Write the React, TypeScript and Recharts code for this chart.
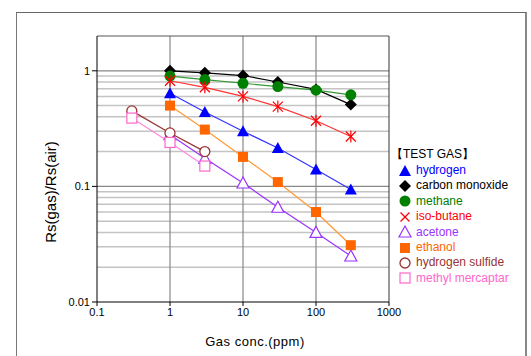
import React from 'react';
import { ComposedChart, Line, XAxis, YAxis, ReferenceLine } from 'recharts';

// gas concentrations (ppm)
const concMain = [1, 3, 10, 30, 100, 300];
const concLow = [0.3, 1, 3];

// Rs(gas)/Rs(air)
const hydrogen = [0.64, 0.44, 0.3, 0.215, 0.14, 0.094];
const carbonMonoxide = [1.0, 0.96, 0.91, 0.8, 0.69, 0.51];
const methane = [0.9, 0.84, 0.78, 0.73, 0.68, 0.62];
const isoButane = [0.82, 0.72, 0.6, 0.49, 0.37, 0.27];
const acetone = [0.28, 0.175, 0.107, 0.066, 0.04, 0.025];
const ethanol = [0.5, 0.31, 0.18, 0.109, 0.06, 0.031];
const hydrogenSulfide = [0.45, 0.29, 0.2];
const methylMercaptan = [0.39, 0.24, 0.15];

const xTicks = [0.1, 1, 10, 100, 1000];
const yTicks = [0.01, 0.1, 1];
const majorX = [1, 10, 100];
const majorY = [0.1, 1];
const minorY = [0.02, 0.03, 0.04, 0.05, 0.06, 0.07, 0.08, 0.09, 0.2, 0.3, 0.4, 0.5, 0.6, 0.7, 0.8, 0.9];

type Kind = 'triangle' | 'diamond' | 'circle' | 'star' | 'openTriangle' | 'square' | 'openCircle' | 'openSquare';

const toPoints = (xs: number[], ys: number[]) => ys.map((y, i) => ({ x: xs[i], y }));

const series = [
  { name: 'hydrogen', data: toPoints(concMain, hydrogen), line: '#3333ff', mark: '#0000ff', text: '#0000ff', kind: 'triangle' as Kind },
  { name: 'carbon monoxide', data: toPoints(concMain, carbonMonoxide), line: '#000000', mark: '#000000', text: '#000000', kind: 'diamond' as Kind },
  { name: 'methane', data: toPoints(concMain, methane), line: '#339933', mark: '#008000', text: '#008000', kind: 'circle' as Kind },
  { name: 'iso-butane', data: toPoints(concMain, isoButane), line: '#ff3333', mark: '#ff0000', text: '#ff0000', kind: 'star' as Kind },
  { name: 'acetone', data: toPoints(concMain, acetone), line: '#9933ff', mark: '#9933ff', text: '#9933ff', kind: 'openTriangle' as Kind },
  { name: 'ethanol', data: toPoints(concMain, ethanol), line: '#ff9933', mark: '#ff6600', text: '#ff6600', kind: 'square' as Kind },
  { name: 'hydrogen sulfide', data: toPoints(concLow, hydrogenSulfide), line: '#993333', mark: '#993333', text: '#993333', kind: 'openCircle' as Kind },
  { name: 'methyl mercaptar', data: toPoints(concLow, methylMercaptan), line: '#ff88dd', mark: '#ff66cc', text: '#ff66cc', kind: 'openSquare' as Kind },
];

const Marker = ({ cx, cy, kind, color }: { cx: number; cy: number; kind: Kind; color: string }) => {
  switch (kind) {
    case 'triangle':
      return <polygon points={`${cx},${cy - 6} ${cx - 6},${cy + 5} ${cx + 6},${cy + 5}`} fill={color} />;
    case 'openTriangle':
      return <polygon points={`${cx},${cy - 6} ${cx - 6},${cy + 5} ${cx + 6},${cy + 5}`} fill="#fff" stroke={color} strokeWidth={1.2} />;
    case 'diamond':
      return <polygon points={`${cx},${cy - 6} ${cx + 6},${cy} ${cx},${cy + 6} ${cx - 6},${cy}`} fill={color} />;
    case 'circle':
      return <circle cx={cx} cy={cy} r={5.5} fill={color} />;
    case 'openCircle':
      return <circle cx={cx} cy={cy} r={5} fill="#fff" stroke={color} strokeWidth={1.3} />;
    case 'square':
      return <rect x={cx - 5} y={cy - 5} width={10} height={10} fill={color} />;
    case 'openSquare':
      return <rect x={cx - 5} y={cy - 5} width={10} height={10} fill="#fff" stroke={color} strokeWidth={1.2} />;
    case 'star':
      return (
        <g stroke={color} strokeWidth={1.2}>
          <line x1={cx - 5} y1={cy - 5} x2={cx + 5} y2={cy + 5} />
          <line x1={cx - 5} y1={cy + 5} x2={cx + 5} y2={cy - 5} />
          <line x1={cx} y1={cy - 6} x2={cx} y2={cy + 6} />
        </g>
      );
  }
  return null;
};

const LegendMark = ({ kind, color }: { kind: Kind; color: string }) => {
  if (kind === 'star') {
    return (
      <svg width={14} height={14}>
        <g stroke={color} strokeWidth={1.2}>
          <line x1={2.5} y1={2.5} x2={11.5} y2={11.5} />
          <line x1={2.5} y1={11.5} x2={11.5} y2={2.5} />
        </g>
      </svg>
    );
  }
  return (
    <svg width={14} height={14}>
      <Marker cx={7} cy={7} kind={kind} color={color} />
    </svg>
  );
};

export default function App() {
  return (
    <div style={{ position: 'absolute', left: 0, top: 0, width: 531, height: 356, background: '#fff', overflow: 'hidden', fontFamily: '"Liberation Sans", Arial, sans-serif' }}>
      <div style={{ position: 'absolute', left: 16, top: 12, width: 508, height: 400, borderTop: '1px solid #666', borderLeft: '1.5px solid #777', borderRight: '2px solid #888' }} />
      <div style={{ position: 'absolute', left: 0, top: 0 }}>
        <ComposedChart width={531} height={356} margin={{ top: 36, right: 142, bottom: 34, left: 37 }}>
          <XAxis
            dataKey="x"
            type="number"
            scale="log"
            domain={[0.1, 1000]}
            ticks={xTicks}
            allowDataOverflow
            height={20}
            axisLine={{ stroke: '#000' }}
            tickLine={{ stroke: '#000' }}
            tickSize={4}
            tick={{ fontSize: 11, fill: '#000' }}
            tickFormatter={(v: number) => String(v)}
          />
          <YAxis
            dataKey="y"
            type="number"
            scale="log"
            domain={[0.01, 2]}
            ticks={yTicks}
            allowDataOverflow
            width={60}
            axisLine={{ stroke: '#000' }}
            tickLine={{ stroke: '#000' }}
            tickSize={5}
            tick={{ fontSize: 11, fill: '#000' }}
            tickFormatter={(v: number) => String(v)}
          />
          {minorY.map((v) => (
            <ReferenceLine key={`my-${v}`} y={v} stroke="#c4c4c4" strokeWidth={1.5} />
          ))}
          {majorY.map((v) => (
            <ReferenceLine key={`My-${v}`} y={v} stroke="#888" strokeWidth={1.2} />
          ))}
          {majorX.map((v) => (
            <ReferenceLine key={`Mx-${v}`} x={v} stroke="#888" strokeWidth={1.2} />
          ))}
          <ReferenceLine y={2} stroke="#555" strokeWidth={1} />
          <ReferenceLine x={1000} stroke="#333" strokeWidth={1} />
          {series.map((s) => (
            <Line
              key={s.name}
              data={s.data}
              dataKey="y"
              type="linear"
              stroke={s.line}
              strokeWidth={1.2}
              isAnimationActive={false}
              dot={(p: any) => <Marker key={`${s.name}-${p.index}`} cx={p.cx} cy={p.cy} kind={s.kind} color={s.mark} />}
              activeDot={false}
            />
          ))}
        </ComposedChart>
      </div>
      <div style={{ position: 'absolute', left: 50, top: 192, transform: 'translate(-50%, -50%) rotate(-90deg)', fontSize: 15, whiteSpace: 'nowrap', color: '#000' }}>
        Rs(gas)/Rs(air)
      </div>
      <div style={{ position: 'absolute', left: 255, top: 341, transform: 'translate(-50%, -50%)', fontSize: 13, letterSpacing: 0.5, whiteSpace: 'nowrap', color: '#000' }}>
        Gas conc.(ppm)
      </div>
      <div style={{ position: 'absolute', left: 391, top: 147, fontSize: 12, lineHeight: '15.4px' }}>
        <div style={{ color: '#000', height: 16 }}>【TEST GAS】</div>
        {series.map((s) => (
          <div key={s.name} style={{ display: 'flex', alignItems: 'center', height: 15.4, paddingLeft: 7, color: s.text, whiteSpace: 'nowrap' }}>
            <LegendMark kind={s.kind} color={s.mark} />
            <span style={{ marginLeft: 4 }}>{s.name}</span>
          </div>
        ))}
      </div>
    </div>
  );
}
